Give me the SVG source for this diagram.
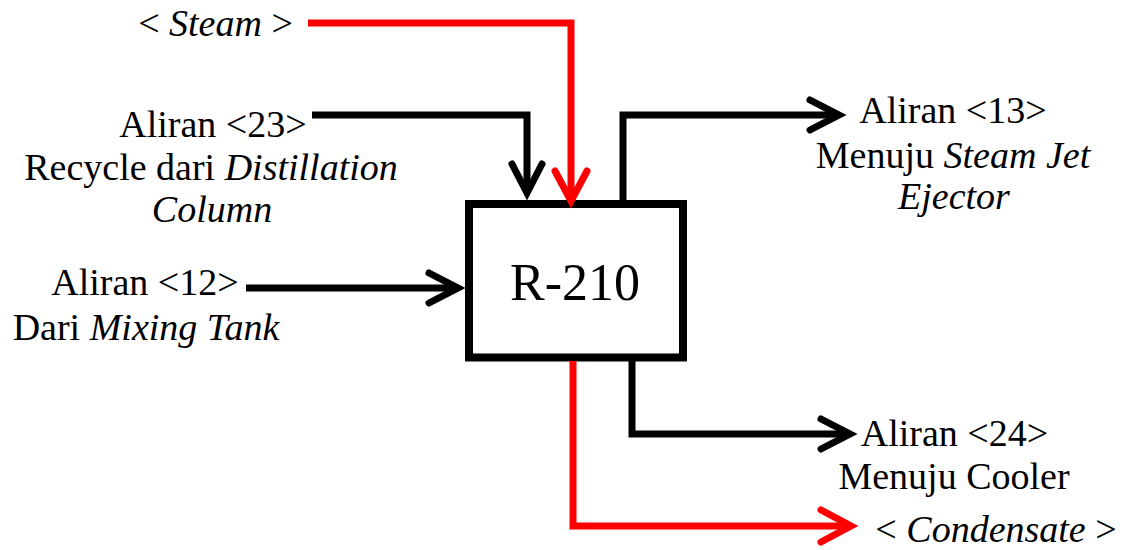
<svg xmlns="http://www.w3.org/2000/svg" width="1127" height="550" viewBox="0 0 1127 550">
  <style>
    text { font-family: "Liberation Serif", "DejaVu Serif", serif; font-size: 38px; fill: #000; text-anchor: middle; }
    .it { font-style: italic; }
    .box { fill: #fff; stroke: #000; stroke-width: 8; }
    .conn { fill: none; stroke-width: 7; stroke-linejoin: miter; stroke-linecap: butt; }
    .blk { stroke: #000; }
    .red { stroke: #ff0000; }
    .head { fill: none; stroke-width: 7; stroke-linejoin: miter; stroke-linecap: round; stroke-miterlimit: 10; }
  </style>
  <defs>
    <marker id="ahBlack" markerUnits="userSpaceOnUse" markerWidth="60" markerHeight="60" refX="0" refY="0" orient="auto" overflow="visible">
      <path class="head" stroke="#000" d="M-29,-15 L0,0 L-29,15"/>
    </marker>
    <marker id="ahRed" markerUnits="userSpaceOnUse" markerWidth="60" markerHeight="60" refX="0" refY="0" orient="auto" overflow="visible">
      <path class="head" stroke="#ff0000" d="M-30,-16 L0,0 L-30,16"/>
    </marker>
  </defs>
  <rect width="1127" height="550" fill="#fff"/>

  <g id="reactor">
    <rect class="box" x="469" y="204" width="214" height="153.5"/>
    <text x="575" y="300" style="font-size:52px">R-210</text>
  </g>

  <g id="connectors">
    <path class="conn red" d="M308,23 H571 V201" marker-end="url(#ahRed)"/>
    <path class="conn blk" d="M312,115 H527 V193" marker-end="url(#ahBlack)"/>
    <path class="conn blk" d="M246,288 H458" marker-end="url(#ahBlack)"/>
    <path class="conn blk" d="M623,201 V115 H839" marker-end="url(#ahBlack)"/>
    <path class="conn blk" d="M632,361 V434 H850" marker-end="url(#ahBlack)"/>
    <path class="conn red" d="M573,361 V526 H851" marker-end="url(#ahRed)"/>
  </g>

  <g id="label-steam">
    <text x="215.5" y="36">&lt; <tspan class="it">Steam</tspan> &gt;</text>
  </g>
  <g id="label-aliran-23">
    <text x="213" y="137">Aliran &lt;23&gt;</text>
    <text x="211" y="180">Recycle dari <tspan class="it">Distillation</tspan></text>
    <text x="212" y="222" class="it">Column</text>
  </g>
  <g id="label-aliran-12">
    <text x="145" y="295">Aliran &lt;12&gt;</text>
    <text x="146" y="340">Dari <tspan class="it">Mixing Tank</tspan></text>
  </g>
  <g id="label-aliran-13">
    <text x="953" y="123">Aliran &lt;13&gt;</text>
    <text x="953" y="168">Menuju <tspan class="it">Steam Jet</tspan></text>
    <text x="954" y="209" class="it">Ejector</text>
  </g>
  <g id="label-aliran-24">
    <text x="954.5" y="446">Aliran &lt;24&gt;</text>
    <text x="954" y="489">Menuju Cooler</text>
  </g>
  <g id="label-condensate">
    <text x="996" y="542">&lt; <tspan class="it">Condensate</tspan> &gt;</text>
  </g>
</svg>
